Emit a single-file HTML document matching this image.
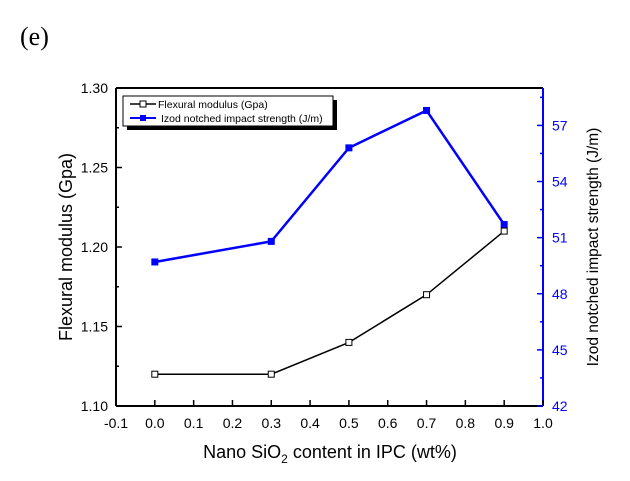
<!DOCTYPE html>
<html><head><meta charset="utf-8"><style>
html,body{margin:0;padding:0;background:#fff;width:630px;height:481px;overflow:hidden}
svg text{font-family:"Liberation Sans",Arial,sans-serif}
</style></head><body>
<svg id="chart" width="630" height="481" xmlns="http://www.w3.org/2000/svg">
<text x="20" y="45" style="font-family:'Liberation Serif',serif" font-size="26">(e)</text>
<g id="g"></g>
</svg>
<script>
const categories=[0.0,0.3,0.5,0.7,0.9];
const modulus=[1.12,1.12,1.14,1.17,1.21];
const impact=[49.7,50.8,55.8,57.8,51.7];
const xTicks=[-0.1,0.0,0.1,0.2,0.3,0.4,0.5,0.6,0.7,0.8,0.9,1.0];
const yLeftTicks=[1.10,1.15,1.20,1.25,1.30];
const yRightTicks=[42,45,48,51,54,57];

const L=116,R=543,T=88,B=406;
const x=v=>L+(v+0.1)/1.1*(R-L);
const yl=v=>B-(v-1.10)/0.20*(B-T);
const yr=v=>B-(v-42)/17*(B-T);
const g=document.getElementById('g');
const NS='http://www.w3.org/2000/svg';
function el(t,a,txt){const e=document.createElementNS(NS,t);for(const k in a)e.setAttribute(k,a[k]);if(txt!==undefined)e.textContent=txt;g.appendChild(e);return e;}

let e=el('line',{x1:L,y1:T,x2:R,y2:T,stroke:'#000','stroke-width':2});

e=el('line',{x1:L,y1:T,x2:L,y2:B,stroke:'#000','stroke-width':2});

e=el('line',{x1:L,y1:B,x2:R,y2:B,stroke:'#000','stroke-width':2});

e=el('line',{x1:R,y1:T,x2:R,y2:B,stroke:'#0000ff','stroke-width':2});


xTicks.forEach(v=>{
  el('line',{x1:x(v),y1:B,x2:x(v),y2:B-6,stroke:'#000','stroke-width':1.5});
  e=el('text',{x:x(v),y:B+22,'font-size':14,'text-anchor':'middle'},v.toFixed(1));
  
});
yLeftTicks.forEach((v,i)=>{
  el('line',{x1:L,y1:yl(v),x2:L+6,y2:yl(v),stroke:'#000','stroke-width':1.5});
  if(i<yLeftTicks.length-1)el('line',{x1:L,y1:yl(v+0.025),x2:L+3,y2:yl(v+0.025),stroke:'#000','stroke-width':1.5});
  e=el('text',{x:L-8,y:yl(v)+5,'font-size':14,'text-anchor':'end'},v.toFixed(2));
  
});
yRightTicks.forEach(v=>{
  el('line',{x1:R,y1:yr(v),x2:R-6,y2:yr(v),stroke:'#0000ff','stroke-width':1.5});
  if(v+1.5<59)el('line',{x1:R,y1:yr(v+1.5),x2:R-3,y2:yr(v+1.5),stroke:'#0000ff','stroke-width':1.5});
  e=el('text',{x:R+9,y:yr(v)+5,'font-size':14,fill:'#0000ff'},String(v));
  
});

e=el('polyline',{points:categories.map((c,i)=>x(c)+','+yr(impact[i])).join(' '),fill:'none',stroke:'#0000ff','stroke-width':2.5});

categories.forEach((c,i)=>{
  e=el('rect',{x:x(c)-3.5,y:yr(impact[i])-3.5,width:7,height:7,fill:'#0000ff'});
  
});
e=el('polyline',{points:categories.map((c,i)=>x(c)+','+yl(modulus[i])).join(' '),fill:'none',stroke:'#000','stroke-width':1.5});

categories.forEach((c,i)=>{
  e=el('rect',{x:x(c)-3,y:yl(modulus[i])-3,width:6,height:6,fill:'#fff',stroke:'#000','stroke-width':1});
  
});

e=el('text',{x:0,y:0,'font-size':18,'text-anchor':'middle',transform:'translate(72,247) rotate(-90)'},'Flexural modulus (Gpa)');

e=el('text',{x:0,y:0,'font-size':15.5,'text-anchor':'middle',transform:'translate(598,247) rotate(-90)'},'Izod notched impact strength (J/m)');

e=el('text',{x:330,y:458,'font-size':18,'text-anchor':'middle'});
e.innerHTML='Nano SiO<tspan font-size="12" dy="5">2</tspan><tspan dy="-5"> content in IPC (wt%)</tspan>';


e=el('rect',{x:127,y:100,width:210,height:30,fill:'#000'});

e=el('rect',{x:123,y:96,width:210,height:30,fill:'#fff',stroke:'#000','stroke-width':1});

el('line',{x1:130,y1:104,x2:156,y2:104,stroke:'#000','stroke-width':1.5});
el('rect',{x:140,y:101,width:6,height:6,fill:'#fff',stroke:'#000'});
e=el('text',{x:158,y:108,'font-size':10.5},'Flexural modulus (Gpa)');

el('line',{x1:130,y1:118,x2:156,y2:118,stroke:'#0000ff','stroke-width':2});
el('rect',{x:140,y:115,width:6,height:6,fill:'#0000ff'});
e=el('text',{x:161,y:122,'font-size':10.5},'Izod notched impact strength (J/m)');

</script>
</body></html>
